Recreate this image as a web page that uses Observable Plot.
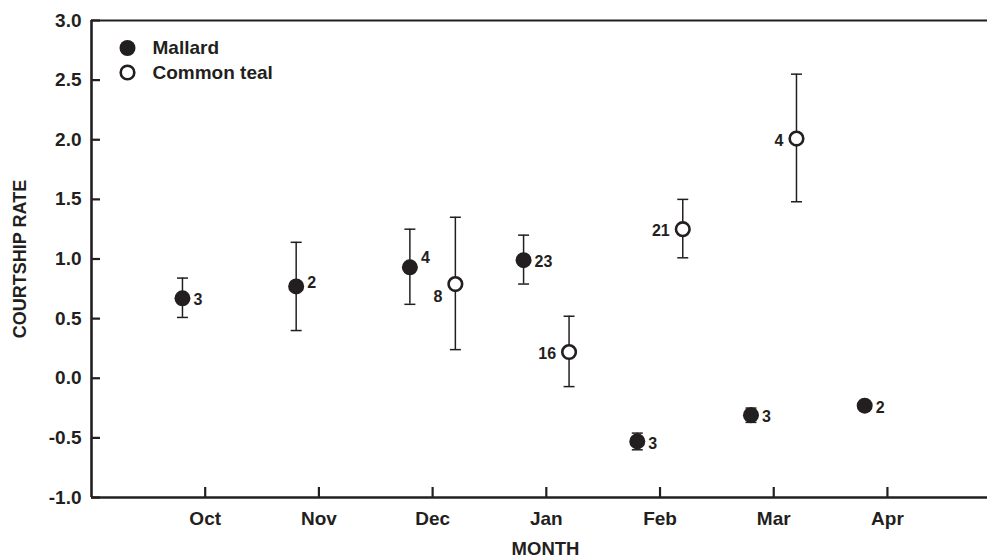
<!DOCTYPE html>
<html><head><meta charset="utf-8">
<script src="https://cdn.jsdelivr.net/npm/d3@7"></script>
<script src="https://cdn.jsdelivr.net/npm/@observablehq/plot@0.6"></script>
<style>
html,body{margin:0;padding:0;background:#fff;overflow:hidden}
#chart svg{display:block}
</style></head><body><div id="chart"></div>
<script>
// ---- data ----
const months = ["Oct", "Nov", "Dec", "Jan", "Feb", "Mar", "Apr"];
const yTicks = [-1, -0.5, 0, 0.5, 1, 1.5, 2, 2.5, 3];

const mallardMonths = ["Oct", "Nov", "Dec", "Jan", "Feb", "Mar", "Apr"];
const mallardMean = [0.67, 0.77, 0.93, 0.99, -0.53, -0.31, -0.23];
const mallardLow  = [0.51, 0.40, 0.62, 0.79, -0.60, -0.37, null];
const mallardHigh = [0.84, 1.14, 1.25, 1.20, -0.46, -0.25, null];
const mallardN    = [3, 2, 4, 23, 3, 3, 2];

const tealMonths = ["Dec", "Jan", "Feb", "Mar"];
const tealMean = [0.79, 0.22, 1.25, 2.01];
const tealLow  = [0.24, -0.07, 1.01, 1.48];
const tealHigh = [1.35, 0.52, 1.50, 2.55];
const tealN    = [8, 16, 21, 4];

// ---- styling ----
const ink = "#231f20";
const font = "'Liberation Sans', Arial, Helvetica, sans-serif";
const W = 987, H = 558, mL = 91, mR = 0, mT = 20, mB = 61;
const frameW = W - mL - mR, frameH = H - mT - mB;
const seriesShift = {"Mallard": -0.2, "Common teal": 0.2};
const labelDyDefault = 2;
const labelDy = {"Mallard|Nov": -4, "Mallard|Dec": -9, "Common teal|Dec": 13};

function rows(series, ms, mean, low, high, n) {
  return ms.map((m, i) => ({
    series, month: m,
    x: months.indexOf(m) + 1 + seriesShift[series],
    mean: mean[i], low: low[i], high: high[i], n: n[i]
  }));
}
const mallard = rows("Mallard", mallardMonths, mallardMean, mallardLow, mallardHigh, mallardN);
const teal = rows("Common teal", tealMonths, tealMean, tealLow, tealHigh, tealN);
const all = mallard.concat(teal);
const withErr = all.filter(d => d.low != null);
const caps = withErr.flatMap(d => [{x: d.x, y: d.low}, {x: d.x, y: d.high}]);

const capSymbol = {
  draw(ctx, size) {
    const r = Math.sqrt(size / Math.PI);
    ctx.moveTo(-r, 0); ctx.lineTo(r, 0);
  }
};

function labelMarks(data, opts) {
  const groups = d3.group(data, d => labelDy[d.series + "|" + d.month] ?? labelDyDefault);
  return Array.from(groups, ([dy, g]) => Plot.text(g, {
    x: "x", y: "mean", text: "n", dy, fontSize: 16, fill: ink, ...opts
  }));
}

const chart = Plot.plot({
  width: W, height: H,
  marginLeft: mL, marginRight: mR, marginTop: mT, marginBottom: mB,
  style: {fontFamily: font, fontWeight: "bold", fontSize: "19px", color: ink, background: "#fff"},
  x: {domain: [0, 7.88]},
  y: {domain: [-1, 3]},
  marks: [
    // axes lines
    Plot.ruleX([0], {stroke: ink, strokeWidth: 2.6}),
    Plot.ruleY([-1], {stroke: ink, strokeWidth: 2.6}),
    Plot.ruleY([3], {stroke: ink, strokeWidth: 2.2}),
    // inward ticks
    Plot.ruleY(yTicks, {y: d => d, insetRight: frameW - 9, stroke: ink, strokeWidth: 2.2}),
    Plot.ruleX(d3.range(1, months.length + 1), {x: d => d, insetTop: frameH - 10, stroke: ink, strokeWidth: 2.2}),
    Plot.axisY({ticks: yTicks, tickSize: 0, tickPadding: 10, tickFormat: d => d.toFixed(1), label: null, fill: ink}),
    Plot.axisX({ticks: d3.range(1, months.length + 1), tickSize: 0, tickPadding: 14, tickFormat: d => months[d - 1], label: null, fill: ink}),
    // axis titles
    Plot.text(["COURTSHIP RATE"], {frameAnchor: "left", rotate: -90, dx: -71, textAnchor: "middle", lineAnchor: "middle", fontSize: 18, fill: ink}),
    Plot.text(["MONTH"], {frameAnchor: "bottom", dx: 6, dy: 52, lineAnchor: "middle", fontSize: 18.5, fill: ink}),
    // error bars
    Plot.ruleX(withErr, {x: "x", y1: "low", y2: "high", stroke: ink, strokeWidth: 1.5}),
    Plot.dot(caps, {x: "x", y: "y", r: 5.5, symbol: capSymbol, fill: "none", stroke: ink, strokeWidth: 1.5}),
    // points
    Plot.dot(mallard, {x: "x", y: "mean", r: 8, fill: ink, stroke: "none"}),
    Plot.dot(teal, {x: "x", y: "mean", r: 6.8, fill: "white", stroke: ink, strokeWidth: 2.6}),
    // sample sizes
    ...labelMarks(mallard, {textAnchor: "start", dx: 11}),
    ...labelMarks(teal, {textAnchor: "end", dx: -13}),
    // legend
    Plot.dot(["Mallard"], {frameAnchor: "top-left", dx: 36, dy: 27.5, r: 8, fill: ink, stroke: "none"}),
    Plot.dot(["Common teal"], {frameAnchor: "top-left", dx: 36, dy: 52, r: 6.8, fill: "white", stroke: ink, strokeWidth: 2.6}),
    Plot.text(["Mallard"], {frameAnchor: "top-left", dx: 61, dy: 27.5, textAnchor: "start", lineAnchor: "middle", fontSize: 19, fill: ink}),
    Plot.text(["Common teal"], {frameAnchor: "top-left", dx: 61, dy: 52, textAnchor: "start", lineAnchor: "middle", fontSize: 19, fill: ink})
  ]
});
document.getElementById("chart").appendChild(chart);
</script>
</body></html>
